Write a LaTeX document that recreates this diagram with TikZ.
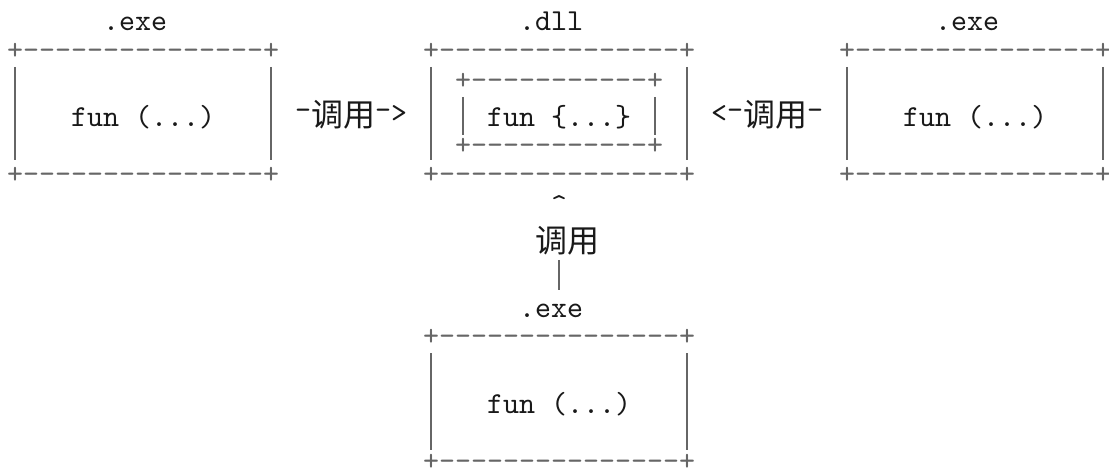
\documentclass[tikz,border=0pt]{standalone}
\usepackage{fontspec}
\newfontfamily\ascfam{lmmono10-regular.otf}[Ligatures=TeXOff]
\newfontfamily\cjkfam{Noto Sans CJK SC}
\newcommand\ascf{\fontsize{30.48}{30.48}\selectfont\ascfam}
\newcommand\cjkf{\fontsize{32}{32}\selectfont\cjkfam}
\newcommand\hy{\raisebox{7.5pt}{-}}
\newcommand\ang[1]{\raisebox{4pt}{#1}}
\tikzset{
  txt/.style={inner sep=0pt, outer sep=0pt, anchor=base west, text=black!90, font=\ascf},
  brd/.style={inner sep=0pt, outer sep=0pt, anchor=west, text=black!60, font=\ascf},
  vbar/.style={draw=black!60, line width=1.1pt},
}
\begin{document}
\begin{tikzpicture}[x=1pt,y=-1pt]
\useasboundingbox (0,0) rectangle (1109,473);
% labels above boxes
\node[txt] (lbl1) at ({7+16*6},31) {.exe};
\node[txt] (lbl2) at ({7+16*32},31) {.dll};
\node[txt] (lbl3) at ({7+16*58},31) {.exe};
% top borders
\node[brd] (b1t) at ({7+16*0},51.5) {+---------------+};
\node[brd] (b2t) at ({7+16*26},51.5) {+---------------+};
\node[brd] (b3t) at ({7+16*52},51.5) {+---------------+};
% inner box borders
\node[brd] (ibt) at ({7+16*28},81.7) {+-----------+};
\node[brd] (ibb) at ({7+16*28},146.5) {+-----------+};
% bottom borders
\node[brd] (b1b) at ({7+16*0},175) {+---------------+};
\node[brd] (b2b) at ({7+16*26},175) {+---------------+};
\node[brd] (b3b) at ({7+16*52},175) {+---------------+};
% vertical sides
\foreach \c in {0,16,26,42,52,68}{
  \coordinate (vt\c) at ({15+16*\c},67);
  \coordinate (vb\c) at ({15+16*\c},160);
  \draw[vbar] (vt\c) -- (vb\c);
}
\foreach \c in {28,40}{
  \coordinate (it\c) at ({15+16*\c},97);
  \coordinate (ib\c) at ({15+16*\c},135);
  \draw[vbar] (it\c) -- (ib\c);
}
% middle row texts
\node[txt] (f1) at ({7+16*4},127) {fun (...)};
\node[txt] (c1) at ({7+16*18},127) {\hy{\cjkf 调用}\hy\ang{>}};
\node[txt] (f2) at ({7+16*30},127) {fun \{...\}};
\node[txt] (c2) at ({7+16*44},127) {\ang{<}\hy{\cjkf 调用}\hy};
\node[txt] (f3) at ({7+16*56},127) {fun (...)};
% lower part
\node[txt] (caret) at ({7+16*34},215) {\textasciicircum};
\node[txt] (c3) at ({7+16*33},253) {\cjkf 调用};
\coordinate (l1) at ({15+16*34},260);
\coordinate (l2) at ({15+16*34},290);
\draw[vbar] (l1) -- (l2);
\node[txt] (lbl4) at ({7+16*32},317) {.exe};
\node[brd] (b4t) at ({7+16*26},337.5) {+---------------+};
\foreach \c in {26,42}{
  \coordinate (wt\c) at ({15+16*\c},353);
  \coordinate (wb\c) at ({15+16*\c},450);
  \draw[vbar] (wt\c) -- (wb\c);
}
\node[txt] (f4) at ({7+16*30},413) {fun (...)};
\node[brd] (b4b) at ({7+16*26},462) {+---------------+};
\end{tikzpicture}
\end{document}
